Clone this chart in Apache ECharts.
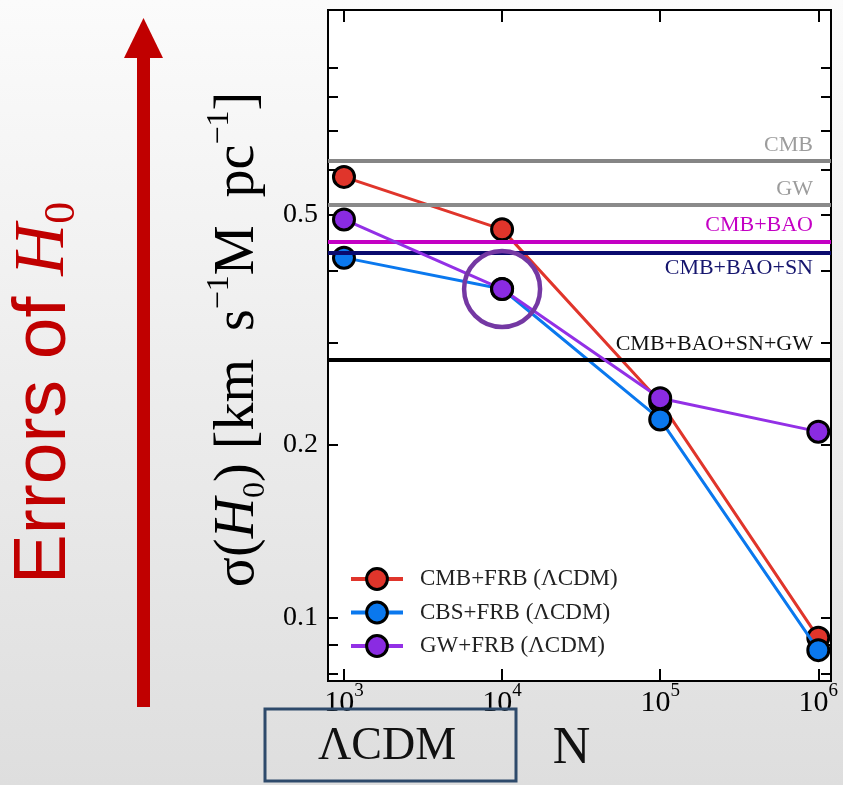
<!DOCTYPE html>
<html>
<head>
<meta charset="utf-8">
<script src="https://cdn.jsdelivr.net/npm/echarts@6/dist/echarts.min.js"></script>
<style>
html,body{margin:0;padding:0;}
body{background:linear-gradient(#fbfbfb,#dedede);}
#chart{width:843px;height:785px;}
</style>
</head>
<body>
<div id="chart"></div>
<script>
// ---- data ----
const Ns = [1e3, 1e4, 1e5, 1e6];
const seriesNames = ['CMB+FRB (ΛCDM)', 'CBS+FRB (ΛCDM)', 'GW+FRB (ΛCDM)'];
const cmbFrb = [0.582, 0.472, 0.237, 0.0925];
const cbsFrb = [0.4216, 0.372, 0.221, 0.088];
const gwFrb = [0.491, 0.372, 0.2406, 0.2105];
const highlightN = [1e4];
const highlightVal = [0.372];
const refNames = ['CMB', 'GW', 'CMB+BAO', 'CMB+BAO+SN', 'CMB+BAO+SN+GW'];
const refValues = [0.622, 0.521, 0.452, 0.4315, 0.280];
const xTickVals = [1e3, 1e4, 1e5, 1e6];
const xTickExps = ['3', '4', '5', '6'];
const yTickVals = [0.08, 0.09, 0.1, 0.2, 0.3, 0.4, 0.5, 0.6, 0.7, 0.8, 0.9];
const yLabelVals = [0.1, 0.2, 0.5];
const yLabelTexts = ['0.1', '0.2', '0.5'];

// ---- styles ----
const seriesColors = ['#e0352b', '#0a78ee', '#8a2be2'];
const lineColors = ['#e0352b', '#0a78ee', '#9330e6'];
const refLineColors = ['#858585', '#8a8a8a', '#c400c4', '#0a0a6e', '#000000'];
const refLabelColors = ['#9c9c9c', '#9c9c9c', '#c400c4', '#16166e', '#111111'];
const refLabelPos = ['insideEndTop', 'insideEndTop', 'insideEndTop', 'insideEndBottom', 'insideEndTop'];
const serif = '"Liberation Serif", "DejaVu Serif", serif';

const chart = echarts.init(document.getElementById('chart'), null, {renderer: 'canvas'});

const xMin = 792.4, xMax = 1.203e6, yMin = 0.0778, yMax = 1.133;

const dataSeries = [cmbFrb, cbsFrb, gwFrb].map((vals, k) => ({
  type: 'line',
  name: seriesNames[k],
  data: Ns.map((n, i) => [n, vals[i]]),
  symbol: 'circle',
  symbolSize: 21,
  lineStyle: {color: lineColors[k], width: 3},
  itemStyle: {color: seriesColors[k], borderColor: '#000', borderWidth: 3, opacity: 1},
  z: 3 + k,
  silent: true
}));

const option = {
  animation: false,
  backgroundColor: 'transparent',
  grid: {left: 328, right: 12, top: 10, bottom: 104, show: true, backgroundColor: '#fff', borderColor: '#000', borderWidth: 2},
  legend: {
    data: seriesNames,
    orient: 'vertical',
    left: 349,
    top: 566,
    padding: 0,
    itemWidth: 52,
    itemHeight: 26,
    itemGap: 7.5,
    selectedMode: false,
    itemStyle: {borderColor: '#000', borderWidth: 3},
    lineStyle: {width: 4},
    textStyle: {fontFamily: serif, fontSize: 23, color: '#222', lineHeight: 26, padding: [0, 0, 0, 12]}
  },
  xAxis: [{
    type: 'log', min: xMin, max: xMax, position: 'bottom',
    name: 'N', nameLocation: 'middle', nameGap: 41,
    nameTextStyle: {fontFamily: serif, fontSize: 52, color: '#111', padding: [0, 16, 0, 0]},
    axisLine: {show: true, lineStyle: {color: '#000', width: 2}},
    axisTick: {inside: true, length: 12, lineStyle: {color: '#000', width: 2}, customValues: xTickVals},
    axisLabel: {
      customValues: xTickVals, margin: 1,
      formatter: v => '{b|10}{e|' + xTickExps[xTickVals.findIndex(t => Math.abs(t - v) / t < 1e-6)] + '}',
      rich: {
        b: {fontFamily: serif, fontSize: 30, lineHeight: 42, color: '#000'},
        e: {fontFamily: serif, fontSize: 19, lineHeight: 20, verticalAlign: 'top', color: '#000'}
      }
    },
    splitLine: {show: false}, minorTick: {show: false}
  }, {
    type: 'log', min: xMin, max: xMax, position: 'top',
    axisLine: {show: true, lineStyle: {color: '#000', width: 2}},
    axisTick: {inside: true, length: 12, lineStyle: {color: '#000', width: 2}, customValues: xTickVals},
    axisLabel: {show: false}, splitLine: {show: false}
  }],
  yAxis: [{
    type: 'log', min: yMin, max: yMax, position: 'left',
    name: '{m|σ(}{i|H}{sub|0}{m|) [km  s}{sup|−1}{m|M  pc}{sup|−1}{m|]}',
    nameLocation: 'middle', nameGap: 56,
    nameTextStyle: {
      padding: [0, 0, 0, 12],
      rich: {
        m: {fontFamily: serif, fontSize: 56, lineHeight: 68, color: '#000'},
        i: {fontFamily: serif, fontSize: 56, lineHeight: 68, fontStyle: 'italic', color: '#000'},
        sub: {fontFamily: serif, fontSize: 32, lineHeight: 32, verticalAlign: 'bottom', color: '#000'},
        sup: {fontFamily: serif, fontSize: 32, lineHeight: 32, verticalAlign: 'top', color: '#000'}
      }
    },
    axisLine: {show: true, lineStyle: {color: '#000', width: 2}},
    axisTick: {inside: true, length: 10, lineStyle: {color: '#000', width: 2}, customValues: yTickVals},
    axisLabel: {
      customValues: yLabelVals, margin: 10,
      fontFamily: serif, fontSize: 28, color: '#000',
      formatter: v => yLabelTexts[yLabelVals.findIndex(t => Math.abs(t - v) / t < 1e-6)]
    },
    splitLine: {show: false}
  }, {
    type: 'log', min: yMin, max: yMax, position: 'right',
    axisLine: {show: true, lineStyle: {color: '#000', width: 2}},
    axisTick: {inside: true, length: 10, lineStyle: {color: '#000', width: 2}, customValues: yTickVals},
    axisLabel: {show: false}, splitLine: {show: false}
  }],
  series: [
    {
      type: 'line', data: [], z: 1, silent: true,
      markLine: {
        silent: true, symbol: ['none', 'none'], animation: false,
        data: refValues.map((v, i) => ({
          yAxis: v, name: refNames[i],
          lineStyle: {color: refLineColors[i], width: 4, type: 'solid'},
          label: {show: true, formatter: refNames[i], position: refLabelPos[i], color: refLabelColors[i],
                  fontFamily: serif, fontSize: 22, distance: [18, 5]}
        }))
      }
    },
    ...dataSeries,
    {
      type: 'scatter', silent: true, z: 10,
      data: highlightN.map((n, i) => [n, highlightVal[i]]),
      symbol: 'circle', symbolSize: 76,
      itemStyle: {color: 'rgba(0,0,0,0)', borderColor: '#7438a3', borderWidth: 4.5, opacity: 1}
    }
  ],
  graphic: [
    {type: 'rect', shape: {x: 137, y: 56, width: 13, height: 651}, style: {fill: '#c00000'}, silent: true},
    {type: 'polygon', shape: {points: [[143.5, 18], [124, 58], [163, 58]]}, style: {fill: '#c00000'}, silent: true},
    {
      type: 'text', x: 44, y: 393, rotation: Math.PI / 2, silent: true,
      style: {
        text: '{a|Errors of }{h|H}{s|0}',
        align: 'center', verticalAlign: 'middle',
        rich: {
          a: {fontFamily: '"Liberation Sans", Arial, sans-serif', fontSize: 75, lineHeight: 80, fill: '#c00000'},
          h: {fontFamily: serif, fontStyle: 'italic', fontSize: 72, lineHeight: 80, fill: '#c00000'},
          s: {fontFamily: serif, fontSize: 44, lineHeight: 30, verticalAlign: 'bottom', fill: '#c00000'}
        }
      }
    },
    {type: 'rect', z: 100, shape: {x: 265, y: 709, width: 251, height: 72}, style: {fill: 'none', stroke: '#2e4a6b', lineWidth: 3}, silent: true},
    {type: 'text', z: 100, x: 387, y: 747, silent: true,
     style: {text: 'ΛCDM', fontFamily: serif, fontSize: 46, fill: '#111', align: 'center', verticalAlign: 'middle'}}
  ]
};
chart.setOption(option);
</script>
</body>
</html>
